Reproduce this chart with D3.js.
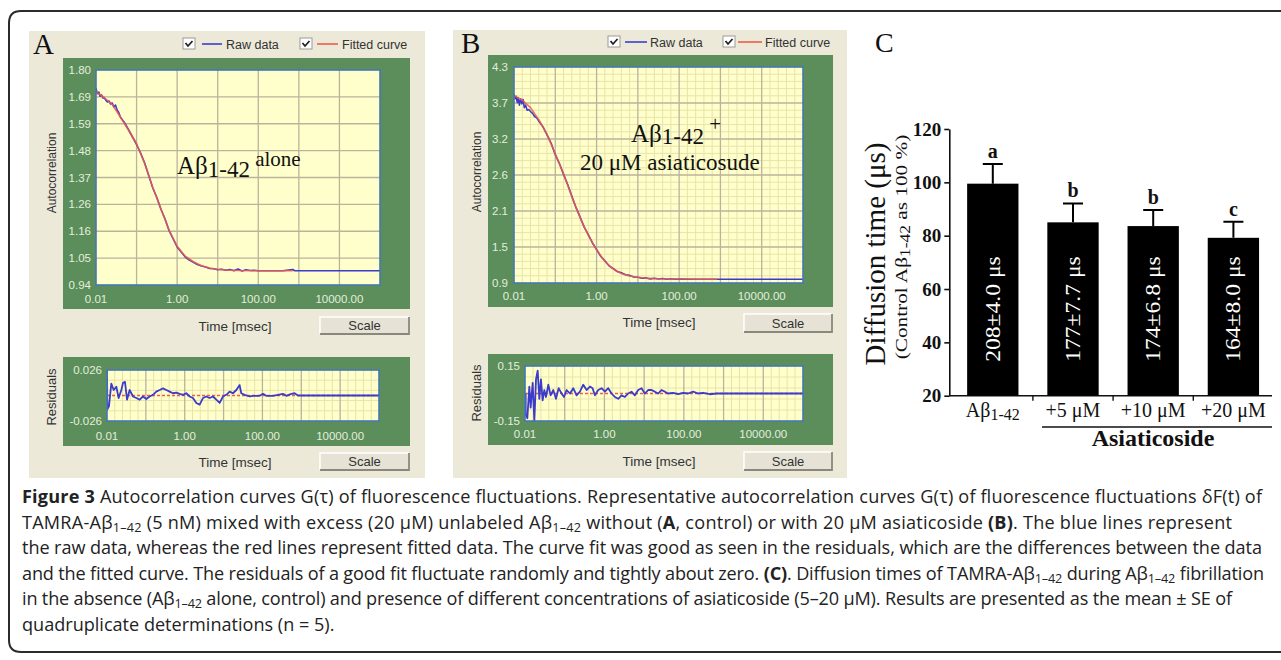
<!DOCTYPE html>
<html><head><meta charset="utf-8">
<script src="https://cdn.jsdelivr.net/npm/d3@7/dist/d3.min.js"></script>
<style>
html,body{margin:0;padding:0;background:#fff;}
svg{display:block;}
</style></head>
<body>
<svg id="fig" width="1281" height="660"></svg>
<script>
// ================= DATA =================
// Panels A and B: time as log10(t / msec), value = autocorrelation / residual
const xTickValues = [0.01, 1, 100, 10000];
const xTickLabels = ["0.01", "1.00", "100.00", "10000.00"];
// y tick labels listed bottom -> top
const yTickLabelsA = ["0.94","1.05","1.16","1.26","1.37","1.48","1.59","1.69","1.80"];
const yTickLabelsB = ["0.9","1.5","2.1","2.6","3.2","3.7","4.3"];
const resTickLabelsA = ["-0.026","0.026"];
const resTickLabelsB = ["-0.15","0.15"];

const rawA = [[-2,1.728],[-1.97,1.705],[-1.93,1.712],[-1.9,1.695],[-1.86,1.700],[-1.83,1.688],[-1.8,1.690],[-1.76,1.680],[-1.72,1.672],[-1.68,1.676],[-1.64,1.664],[-1.6,1.668],[-1.56,1.652],[-1.52,1.660],[-1.48,1.640],[-1.44,1.630],[-1.4,1.612],[-1.3,1.590],[-1.2,1.562],[-1.1,1.532],[-1.0,1.502],[-0.9,1.468],[-0.8,1.428],[-0.7,1.378],[-0.6,1.328],[-0.5,1.290],[-0.4,1.243],[-0.3,1.205],[-0.2,1.158],[-0.1,1.125],[0,1.092],[0.1,1.072],[0.2,1.052],[0.3,1.040],[0.4,1.031],[0.5,1.022],[0.6,1.016],[0.7,1.012],[0.8,1.006],[0.9,1.005],[1.0,1.001],[1.1,1.003],[1.2,0.999],[1.3,1.002],[1.4,0.997],[1.5,1.004],[1.6,0.996],[1.7,1.001],[1.8,0.998],[1.9,0.999],[2.0,0.997],[2.2,0.997],[2.4,0.997],[2.6,0.997],[2.85,1.002],[2.9,0.997],[3.5,0.997],[4.0,0.997],[5.0,0.997]];
const fitA = [[-2,1.712],[-1.8,1.690],[-1.6,1.662],[-1.4,1.612],[-1.2,1.560],[-1.0,1.505],[-0.8,1.425],[-0.6,1.330],[-0.4,1.245],[-0.2,1.160],[0,1.095],[0.2,1.055],[0.4,1.033],[0.6,1.017],[0.8,1.008],[1.0,1.003],[1.2,1.000],[1.5,0.998],[2.0,0.997],[2.5,0.997],[2.85,0.997]];
const resA = [[-2,0.0255],[-1.99,-0.0142],[-1.949,-0.0109],[-1.889,0.0122],[-1.828,0.0056],[-1.76,0.0089],[-1.7,-0.0026],[-1.631,0.0056],[-1.588,0.0129],[-1.537,0.0139],[-1.485,-0.0043],[-1.417,0.0056],[-1.331,-0.001],[-1.245,-0.0026],[-1.16,-0.0043],[-1.074,-0.001],[-0.988,-0.0036],[-0.902,-0.001],[-0.816,0.0007],[-0.731,0.004],[-0.645,0.0056],[-0.559,0.0073],[-0.473,0.0056],[-0.388,0.004],[-0.302,0.0023],[-0.216,0.003],[-0.13,0.0017],[-0.045,0.0007],[0.041,0.0023],[0.127,-0.001],[0.213,-0.0026],[0.298,-0.0076],[0.384,-0.0093],[0.47,-0.0026],[0.556,-0.001],[0.642,-0.0026],[0.727,-0.001],[0.813,-0.0043],[0.899,-0.0076],[0.985,-0.001],[1.07,0.0007],[1.156,0.004],[1.242,0.0023],[1.328,0.0056],[1.413,0.0106],[1.456,0.0023],[1.542,0.0007],[1.671,-0.001],[1.756,-0.0003],[1.928,-0.0003],[2.014,0.0017],[2.099,-0.0003],[2.271,-0.0003],[2.528,0.0017],[2.614,-0.0003],[2.743,0.0017],[2.828,0.0023],[2.914,0],[5,0]];

const rawB = [[-2,3.87],[-1.97,3.80],[-1.95,3.84],[-1.92,3.74],[-1.9,3.82],[-1.87,3.70],[-1.84,3.80],[-1.81,3.72],[-1.78,3.79],[-1.75,3.66],[-1.72,3.70],[-1.68,3.62],[-1.64,3.63],[-1.6,3.60],[-1.55,3.57],[-1.5,3.52],[-1.45,3.50],[-1.4,3.45],[-1.3,3.36],[-1.2,3.23],[-1.1,3.10],[-1.0,2.92],[-0.9,2.78],[-0.8,2.61],[-0.7,2.45],[-0.6,2.27],[-0.5,2.09],[-0.4,1.94],[-0.3,1.78],[-0.2,1.66],[-0.1,1.53],[0,1.43],[0.1,1.32],[0.2,1.25],[0.3,1.17],[0.4,1.13],[0.5,1.08],[0.6,1.06],[0.7,1.03],[0.8,1.02],[0.9,0.995],[1.0,0.99],[1.1,0.975],[1.2,0.98],[1.3,0.965],[1.4,0.975],[1.5,0.962],[1.6,0.972],[1.7,0.96],[1.8,0.966],[1.9,0.958],[2.0,0.962],[2.3,0.96],[2.6,0.96],[2.92,0.96],[5,0.96]];
const fitB = [[-2,3.85],[-1.8,3.78],[-1.6,3.66],[-1.4,3.47],[-1.2,3.24],[-1.0,2.93],[-0.8,2.62],[-0.6,2.26],[-0.4,1.93],[-0.2,1.65],[0,1.42],[0.2,1.24],[0.4,1.12],[0.6,1.05],[0.8,1.01],[1.0,0.99],[1.2,0.975],[1.5,0.967],[2.0,0.962],[2.5,0.96],[2.92,0.96]];
const resB = [[-1.983,0],[-1.982,-0.115],[-1.941,-0.135],[-1.891,0.038],[-1.858,-0.077],[-1.807,0.058],[-1.765,-0.15],[-1.723,0.077],[-1.681,0.125],[-1.64,-0.029],[-1.598,0.077],[-1.556,-0.038],[-1.514,0.019],[-1.472,-0.019],[-1.413,0.048],[-1.355,-0.01],[-1.288,0.019],[-1.22,-0.029],[-1.153,0.029],[-1.078,0],[-1.019,-0.019],[-0.952,0.019],[-0.868,0],[-0.785,0.029],[-0.701,-0.01],[-0.617,0.01],[-0.533,0.048],[-0.449,0.019],[-0.365,0.038],[-0.298,0.029],[-0.24,-0.01],[-0.156,0.019],[-0.072,0.029],[0.012,0.01],[0.096,0.029],[0.179,0],[0.263,-0.019],[0.347,-0.029],[0.431,-0.01],[0.515,-0.019],[0.598,0],[0.682,0.01],[0.766,-0.01],[0.85,0.019],[0.934,0.029],[1.018,0],[1.101,0.019],[1.185,0.019],[1.269,0.01],[1.353,0],[1.437,0.019],[1.521,0.01],[1.604,0],[1.73,0.004],[1.856,-0.004],[1.981,0.004],[2.107,0],[2.233,0.01],[2.359,0],[2.484,0.004],[2.652,-0.004],[2.82,0],[5,0]];

// Panel C
const categoriesC = ["Aβ1-42","+5 μM","+10 μM","+20 μM"];
const meansC = [99.5, 85.0, 83.6, 79.2];
const errC = [7.4, 7.1, 6.0, 6.0];
const lettersC = ["a","b","b","c"];
const barLabelsC = ["208±4.0 μs","177±7.7 μs","174±6.8 μs","164±8.0 μs"];
const yTicksC = [20,40,60,80,100,120];

// ================= DRAWING =================
const svg = d3.select("#fig");
const BEIGE = "#ece9d9", GREEN = "#5b8e5b", YELLOW = "#ffffcc", GRID = "#bbb39b",
      BLUE = "#3b3bcc", RED = "#ef5a4a", LABEL = "#e3eedb";
const SANS = "Arial, 'Liberation Sans', sans-serif";
const SERIF = "'Liberation Serif', 'Times New Roman', serif";
let clipId = 0;

svg.append("rect").attr("width",1281).attr("height",660).attr("fill","#fff");

function drawPlot(g, o) {
  g.append("rect").attr("x",o.green[0]).attr("y",o.green[1])
    .attr("width",o.green[2]-o.green[0]).attr("height",o.green[3]-o.green[1]).attr("fill",GREEN);
  const [px0,py0,px1,py1] = o.plot;
  const x = d3.scaleLog().domain([0.01,1e5]).range([px0,px1]);
  const y = d3.scaleLinear().domain(o.yDomain).range([py1,py0]);
  g.append("rect").attr("x",px0).attr("y",py0).attr("width",px1-px0).attr("height",py1-py0).attr("fill",YELLOW);
  const nY = o.yLabels.length - 1;
  const yStep = (o.yDomain[1]-o.yDomain[0])/nY;
  if (o.minor) {
    const minX = [];
    for (let k=-2;k<5;k++) for (let m=1;m<5;m++) minX.push(Math.pow(10,k+m/5));
    g.selectAll(null).data(minX).enter().append("line")
      .attr("x1",d=>x(d)).attr("x2",d=>x(d)).attr("y1",py0).attr("y2",py1)
      .attr("stroke","#e9e3a8").attr("stroke-width",1);
    const minY = [];
    for (let i=0;i<nY;i++) for (let m=1;m<o.minorY;m++) minY.push(o.yDomain[0]+yStep*(i+m/o.minorY));
    g.selectAll(null).data(minY).enter().append("line")
      .attr("y1",d=>y(d)).attr("y2",d=>y(d)).attr("x1",px0).attr("x2",px1)
      .attr("stroke","#e9e3a8").attr("stroke-width",1);
  }
  const majX = d3.range(-1,5).map(k=>Math.pow(10,k));
  g.selectAll(null).data(majX).enter().append("line")
    .attr("x1",d=>x(d)).attr("x2",d=>x(d)).attr("y1",py0).attr("y2",py1)
    .attr("stroke",GRID).attr("stroke-width",1.3);
  const majY = d3.range(1,nY).map(i=>o.yDomain[0]+i*yStep);
  g.selectAll(null).data(majY).enter().append("line")
    .attr("y1",d=>y(d)).attr("y2",d=>y(d)).attr("x1",px0).attr("x2",px1)
    .attr("stroke",GRID).attr("stroke-width",1.3);

  const cid = "clip"+(clipId++);
  g.append("clipPath").attr("id",cid).append("rect").attr("x",px0).attr("y",py0-1).attr("width",px1-px0).attr("height",py1-py0+2);
  const line = d3.line().x(d=>x(Math.pow(10,d[0]))).y(d=>y(d[1]));
  const lg = g.append("g").attr("clip-path","url(#"+cid+")");
  if (o.zero) {
    lg.append("line").attr("x1",px0).attr("x2",px1).attr("y1",y(0)).attr("y2",y(0))
      .attr("stroke",RED).attr("stroke-width",1.5).attr("stroke-dasharray","3,2");
  }
  o.series.forEach(s => {
    lg.append("path").datum(s.data).attr("d",line).attr("fill","none")
      .attr("stroke",s.color).attr("stroke-width",s.w||1.6).attr("stroke-opacity",s.op||1)
      .attr("stroke-linejoin","round");
  });
  g.append("rect").attr("x",px0).attr("y",py0).attr("width",px1-px0).attr("height",py1-py0)
    .attr("fill","none").attr("stroke","#4677b5").attr("stroke-width",1.6);

  g.selectAll(null).data(o.yLabels).enter().append("text")
    .attr("x",o.yLabelX).attr("y",(d,i)=>y(o.yDomain[0]+i*yStep)+4)
    .attr("text-anchor","end").attr("font-family",SANS).attr("font-size",11.5)
    .attr("fill",LABEL).text(d=>d);
  g.selectAll(null).data(xTickValues).enter().append("text")
    .attr("x",d=>x(d)).attr("y",o.xLabelY).attr("text-anchor","middle")
    .attr("font-family",SANS).attr("font-size",11.5).attr("fill",LABEL)
    .text((d,i)=>xTickLabels[i]);
}

function button(g,x,y,w,h) {
  g.append("rect").attr("x",x).attr("y",y).attr("width",w).attr("height",h).attr("fill","#e6e3d6");
  g.append("path").attr("d",`M${x},${y+h} V${y} H${x+w}`).attr("stroke","#fff").attr("stroke-width",1.5).attr("fill","none");
  g.append("path").attr("d",`M${x},${y+h} H${x+w} V${y}`).attr("stroke","#8a877c").attr("stroke-width",1.8).attr("fill","none");
  g.append("text").attr("x",x+w/2).attr("y",y+h/2+4.5).attr("text-anchor","middle")
    .attr("font-family",SANS).attr("font-size",13).attr("fill","#333").text("Scale");
}

function checkbox(g,x,y) {
  g.append("rect").attr("x",x).attr("y",y).attr("width",12).attr("height",11).attr("fill","#fff").attr("stroke","#9a9a9a").attr("stroke-width",1);
  g.append("path").attr("d",`M${x+2.5},${y+5} L${x+5},${y+8} L${x+9.5},${y+3}`).attr("fill","none").attr("stroke","#222").attr("stroke-width",1.8);
}

function legend(g,L) {
  checkbox(g,L.cb1,L.y-6);
  g.append("line").attr("x1",L.l1[0]).attr("x2",L.l1[1]).attr("y1",L.y).attr("y2",L.y).attr("stroke",BLUE).attr("stroke-width",1.6);
  g.append("text").attr("x",L.t1).attr("y",L.y+4.5).attr("font-family",SANS).attr("font-size",12.5).attr("fill","#333").text("Raw data");
  checkbox(g,L.cb2,L.y-6);
  g.append("line").attr("x1",L.l2[0]).attr("x2",L.l2[1]).attr("y1",L.y).attr("y2",L.y).attr("stroke",RED).attr("stroke-width",1.6);
  g.append("text").attr("x",L.t2).attr("y",L.y+4.5).attr("font-family",SANS).attr("font-size",12.5).attr("fill","#333").text("Fitted curve");
}

function rotLabel(g,x,y,txt,size) {
  g.append("text").attr("transform",`translate(${x},${y}) rotate(-90)`).attr("text-anchor","middle")
    .attr("font-family",SANS).attr("font-size",size).attr("fill","#333").text(txt);
}

// ---------- Panel A ----------
const gA = svg.append("g");
gA.append("rect").attr("x",29).attr("y",31).attr("width",396).attr("height",447).attr("fill",BEIGE);
gA.append("text").attr("x",33).attr("y",54).attr("font-family",SERIF).attr("font-size",29).attr("fill","#111").text("A");
legend(gA,{y:44,cb1:183,l1:[202,222],t1:226,cb2:300,l2:[317,338],t2:342});
drawPlot(gA,{green:[63,58,410,309],plot:[96,70,380,285],yDomain:[0.94,1.80],
  yLabels:yTickLabelsA,yLabelX:91,xLabelY:303,minor:false,
  series:[{data:rawA,color:BLUE},{data:fitA,color:RED,op:0.85}]});
rotLabel(gA,56,173,"Autocorrelation",12);
gA.append("text").attr("x",235).attr("y",331).attr("text-anchor","middle").attr("font-family",SANS)
  .attr("font-size",13.5).attr("fill","#333").text("Time [msec]");
button(gA,320,317,89,17);
drawPlot(gA,{green:[63,357,410,446],plot:[107,370,379,421],yDomain:[-0.026,0.026],minorY:5,
  yLabels:resTickLabelsA,yLabelX:102,xLabelY:440,minor:true,zero:true,
  series:[{data:resA,color:BLUE,w:1.8}]});
rotLabel(gA,56,397,"Residuals",13);
gA.append("text").attr("x",235).attr("y",467).attr("text-anchor","middle").attr("font-family",SANS)
  .attr("font-size",13.5).attr("fill","#333").text("Time [msec]");
button(gA,320,453,89,17);
const tA = gA.append("text").attr("x",177).attr("y",174).attr("font-family",SERIF).attr("fill","#111");
tA.append("tspan").attr("font-size",25).text("Aβ");
tA.append("tspan").attr("font-size",23).attr("dy",3).text("1-42");
tA.append("tspan").attr("font-size",21).attr("dy",-11).text(" alone");

// ---------- Panel B ----------
const gB = svg.append("g");
gB.append("rect").attr("x",453).attr("y",30).attr("width",394).attr("height",448).attr("fill",BEIGE);
gB.append("text").attr("x",461).attr("y",53).attr("font-family",SERIF).attr("font-size",29).attr("fill","#111").text("B");
legend(gB,{y:42,cb1:608,l1:[625,647],t1:650,cb2:723,l2:[738,762],t2:765});
drawPlot(gB,{green:[488,55,833,307],plot:[514,67,803,283],yDomain:[0.9,4.3],minorY:5,
  yLabels:yTickLabelsB,yLabelX:508,xLabelY:300,minor:true,
  series:[{data:rawB,color:BLUE},{data:fitB,color:RED,op:0.85}]});
rotLabel(gB,481,172,"Autocorrelation",12);
gB.append("text").attr("x",659).attr("y",327).attr("text-anchor","middle").attr("font-family",SANS)
  .attr("font-size",13.5).attr("fill","#333").text("Time [msec]");
button(gB,744,314,88,18);
drawPlot(gB,{green:[488,354,833,445],plot:[525,366,803,421],yDomain:[-0.15,0.15],minorY:5,
  yLabels:resTickLabelsB,yLabelX:520,xLabelY:438,minor:true,zero:true,
  series:[{data:resB,color:BLUE,w:1.8}]});
rotLabel(gB,481,393,"Residuals",13);
gB.append("text").attr("x",659).attr("y",466).attr("text-anchor","middle").attr("font-family",SANS)
  .attr("font-size",13.5).attr("fill","#333").text("Time [msec]");
button(gB,744,452,88,18);
const tB = gB.append("text").attr("x",631).attr("y",142).attr("font-family",SERIF).attr("fill","#111");
tB.append("tspan").attr("font-size",25).text("Aβ");
tB.append("tspan").attr("font-size",23).attr("dy",2).text("1-42");
tB.append("tspan").attr("font-size",21).attr("dy",-13).text(" +");
gB.append("text").attr("x",580).attr("y",170).attr("font-family",SERIF).attr("font-size",23).attr("fill","#111").text("20 μM asiaticosude");

// ---------- Panel C ----------
const gC = svg.append("g");
gC.append("text").attr("x",875).attr("y",52).attr("font-family",SERIF).attr("font-size",28).attr("fill","#111").text("C");
const yC = d3.scaleLinear().domain([20,120]).range([395.7,129]);
const xC = d3.scaleBand().domain(categoriesC).range([952.7,1273.5]).paddingInner(0.36).paddingOuter(0.18);
const yAx = gC.append("g").attr("transform","translate(949.3,0)")
  .call(d3.axisLeft(yC).tickValues(yTicksC).tickSize(5).tickSizeOuter(0).tickFormat(d3.format("d")));
yAx.select(".domain").attr("stroke","#111").attr("stroke-width",1.6);
yAx.selectAll(".tick line").attr("stroke","#111").attr("stroke-width",1.6);
yAx.selectAll(".tick text").attr("font-family",SERIF).attr("font-size",19).attr("font-weight","bold").attr("fill","#111").attr("x",-8);
gC.append("line").attr("x1",949).attr("x2",1272).attr("y1",yC(20)).attr("y2",yC(20)).attr("stroke","#111").attr("stroke-width",1.6);
const step = xC.step();
gC.selectAll(null).data(categoriesC.slice(1)).enter().append("line")
  .attr("x1",d=>xC(d)-(step-xC.bandwidth())/2).attr("x2",d=>xC(d)-(step-xC.bandwidth())/2)
  .attr("y1",yC(20)).attr("y2",yC(20)+5).attr("stroke","#111").attr("stroke-width",1.4);
gC.selectAll(null).data(categoriesC).enter().append("rect")
  .attr("x",d=>xC(d)).attr("width",xC.bandwidth())
  .attr("y",(d,i)=>yC(meansC[i])).attr("height",(d,i)=>yC(20)-yC(meansC[i])).attr("fill","#000");
gC.selectAll(null).data(categoriesC).enter().append("path")
  .attr("d",(d,i)=>{const cx=xC(d)+xC.bandwidth()/2, y0=yC(meansC[i]), y1=yC(meansC[i]+errC[i]);
     return `M${cx},${y0} V${y1} M${cx-10},${y1} H${cx+10}`;})
  .attr("stroke","#000").attr("stroke-width",2).attr("fill","none");
gC.selectAll(null).data(categoriesC).enter().append("text")
  .attr("x",d=>xC(d)+xC.bandwidth()/2).attr("y",(d,i)=>yC(meansC[i]+errC[i])-6)
  .attr("text-anchor","middle").attr("font-family",SERIF).attr("font-size",20).attr("font-weight","bold")
  .attr("fill","#111").text((d,i)=>lettersC[i]);
gC.selectAll(null).data(categoriesC).enter().append("text")
  .attr("transform",d=>`translate(${xC(d)+xC.bandwidth()/2+7},309) rotate(-90) scale(1.18,1)`)
  .attr("text-anchor","middle").attr("font-family",SERIF).attr("font-size",20)
  .attr("fill","#fff").text((d,i)=>barLabelsC[i]);
gC.selectAll(null).data(categoriesC).enter().append("text")
  .attr("x",d=>xC(d)+xC.bandwidth()/2).attr("y",417).attr("text-anchor","middle")
  .attr("font-family",SERIF).attr("font-size",20).attr("fill","#111")
  .each(function(d){
    const t=d3.select(this);
    if (d.startsWith("Aβ")) { t.append("tspan").text("Aβ"); t.append("tspan").attr("font-size",16).attr("dy",3).text("1-42"); }
    else t.text(d);
  });
gC.append("line").attr("x1",1042).attr("x2",1272).attr("y1",427).attr("y2",427).attr("stroke","#111").attr("stroke-width",1.6);
gC.append("text").attr("x",1153).attr("y",446).attr("text-anchor","middle").attr("font-family",SERIF)
  .attr("font-size",24).attr("font-weight","bold").attr("fill","#111").text("Asiaticoside");
gC.append("text").attr("transform","translate(885,254) rotate(-90)").attr("text-anchor","middle")
  .attr("font-family",SERIF).attr("font-size",29).attr("fill","#111").text("Diffusion time (μs)");
const sub = gC.append("text").attr("transform","translate(907,247) rotate(-90) scale(1.25,1)").attr("text-anchor","middle")
  .attr("font-family",SERIF).attr("font-size",17).attr("fill","#111");
sub.append("tspan").text("(Control Aβ");
sub.append("tspan").attr("font-size",14).attr("dy",3).text("1-42");
sub.append("tspan").attr("dy",-3).text(" as 100 %)");

// ---------- Frame ----------
svg.append("path").attr("d","M1300,11 H21 Q9,11 9,23 V640 Q9,652 21,652 H1300")
  .attr("fill","none").attr("stroke","#2b2b2b").attr("stroke-width",2);

// ---------- Caption ----------
const capLines = [
  [["Figure 3","b"],[" Autocorrelation curves G(τ) of fluorescence fluctuations. Representative autocorrelation curves G(τ) of fluorescence fluctuations δF(t) of",""]],
  [["TAMRA-Aβ",""],["1–42","s"],[" (5 nM) mixed with excess (20 μM) unlabeled Aβ",""],["1–42","s"],[" without (",""],["A","b"],[", control) or with 20 μM asiaticoside ",""],["(B)","b"],[". The blue lines represent",""]],
  [["the raw data, whereas the red lines represent fitted data. The curve fit was good as seen in the residuals, which are the differences between the data",""]],
  [["and the fitted curve. The residuals of a good fit fluctuate randomly and tightly about zero. ",""],["(C)","b"],[". Diffusion times of TAMRA-Aβ",""],["1–42","s"],[" during Aβ",""],["1–42","s"],[" fibrillation",""]],
  [["in the absence (Aβ",""],["1–42","s"],[" alone, control) and presence of different concentrations of asiaticoside (5–20 μM). Results are presented as the mean ± SE of",""]],
  [["quadruplicate determinations (n = 5).",""]]
];
const capEnds = [1262, 1232, 1262, 1264, 1232, null];
const CAPFONT = "'Open Sans', 'Noto Sans', sans-serif";
const cap = svg.append("g").attr("font-family",CAPFONT).attr("fill","#222");
const capTexts = capLines.map((segs,li)=>{
  const t = cap.append("text").attr("x",22).attr("y",503+li*25.5).attr("font-size",16);
  segs.forEach(([s,st])=>{
    const ts = t.append("tspan").text(s);
    if (st==="b") ts.attr("font-weight","bold");
    if (st==="s") { ts.attr("font-size","0.7em").attr("baseline-shift","-22%"); }
  });
  return t;
});
let natural = 0, target = 0;
capTexts.forEach((t,i)=>{ if (capEnds[i]) { natural += t.node().getComputedTextLength(); target += capEnds[i]-22; } });
const fs = 16*target/natural;
capTexts.forEach((t,i)=>{
  t.attr("font-size",fs);
  if (capEnds[i]) t.attr("textLength",capEnds[i]-22).attr("lengthAdjust","spacing");
});
</script>
</body></html>
